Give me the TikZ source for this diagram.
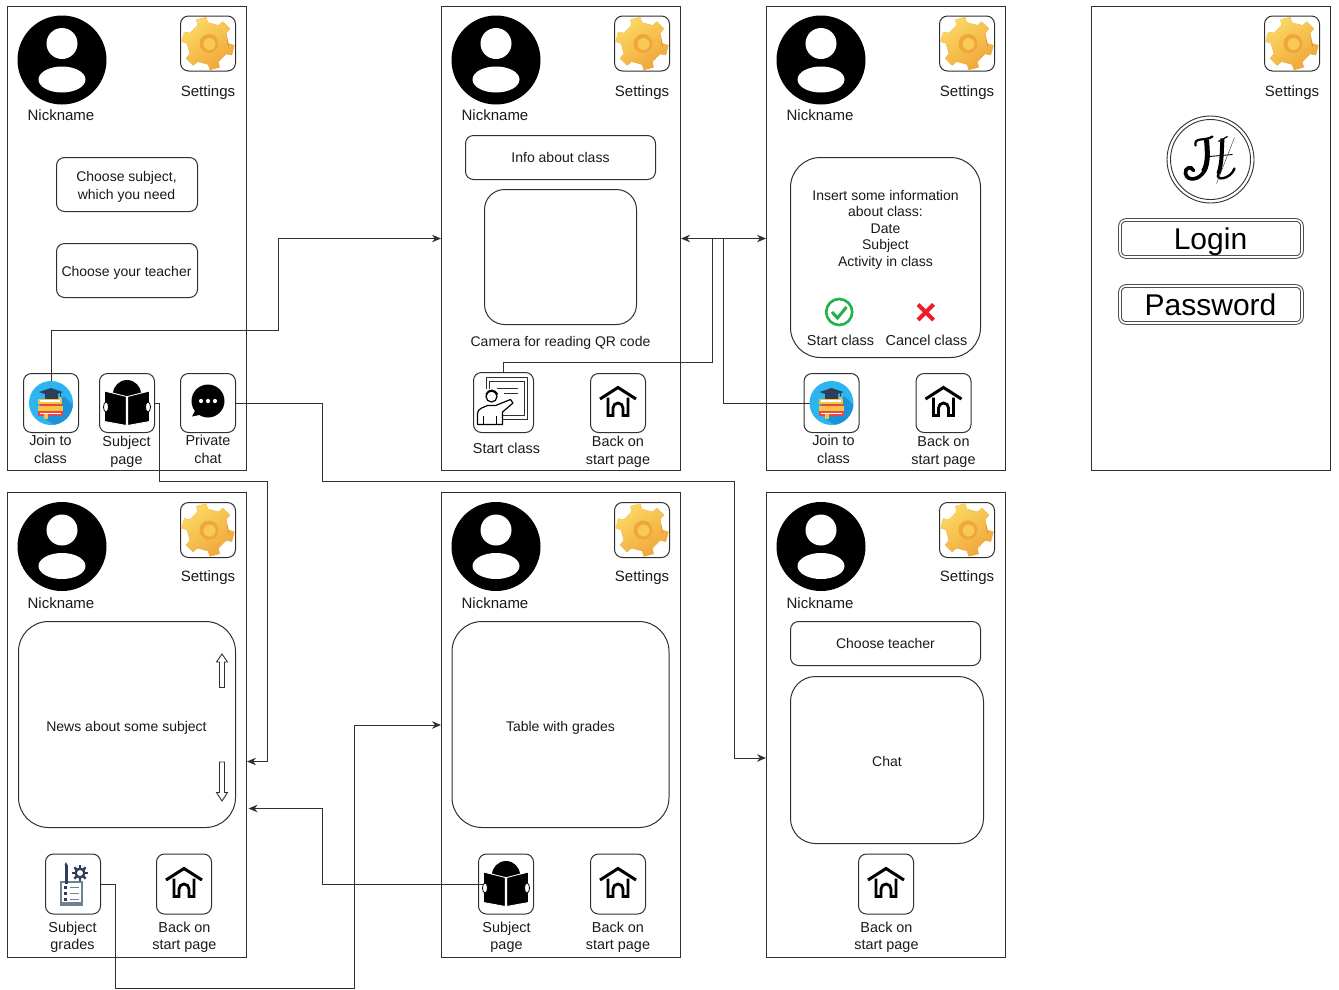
\documentclass[tikz,border=0pt]{standalone}
\usepackage{fontspec}
\setmainfont{Liberation Sans}
\usetikzlibrary{arrows.meta}
\definecolor{ink}{HTML}{303030}
\definecolor{txt}{HTML}{1A1A1A}
\definecolor{gearA}{HTML}{FBD862}
\definecolor{gearB}{HTML}{F0A63A}
\definecolor{gearC}{HTML}{DB8A2C}
\definecolor{skyb}{HTML}{2FB4F2}
\definecolor{skyd}{HTML}{1D93D6}
\definecolor{navy}{HTML}{2C3E5A}
\definecolor{bookY}{HTML}{F8C440}
\definecolor{bookR}{HTML}{E5474F}
\definecolor{okgreen}{HTML}{22B14C}
\definecolor{nored}{HTML}{EE1C25}
\definecolor{slate}{HTML}{6F8290}
\tikzset{
  panel/.style={draw=ink,line width=1pt,fill=white,inner sep=0pt,minimum width=239,minimum height=#1},
  panel/.default=464,
  btn/.style={draw=ink,line width=1pt,fill=white,rounded corners=8pt,inner sep=0pt},
  box/.style={draw=ink,line width=1pt,fill=white,inner sep=0pt,align=center,font=\fontsize{14}{18}\selectfont,text=txt},
  lab/.style={inner sep=0pt,align=center,font=\fontsize{14.4}{18}\selectfont,text=txt},
  big/.style={inner sep=0pt,font=\fontsize{15}{18}\selectfont,text=txt},
  small/.style={inner sep=0pt,align=center,font=\fontsize{14}{16.5}\selectfont,text=txt},
  conn/.style={draw=ink,line width=1pt},
  tip/.style={-{Stealth[length=9pt,width=7.5pt]}},
  tips/.style={{Stealth[length=9pt,width=7.5pt]}-{Stealth[length=9pt,width=7.5pt]}},
  dbl/.style={draw=ink!85,double=white,double distance=1.6pt,line width=1pt,rounded corners=6pt,fill=white,inner sep=0pt,minimum width=182,minimum height=37},
  bigt/.style={inner sep=0pt,font=\fontsize{30}{34}\selectfont,text=black},
  pics/avatarpic/.style={code={
    \fill[black] (0,0) circle (44.5);
    \fill[white] (0,-16.5) circle (15.5);
    \fill[white] (0,19.5) ellipse (23.5 and 13);
  }},
  pics/gearpic/.style={code={
    \fill[gearC] (2,2) ++(15:21) foreach \a in {15,75,135,195,255,315}{
      -- (\a-15:21) -- (\a-11:26.5) -- (\a+11:26.5) -- (\a+15:21) } -- cycle;
    \shade[left color=gearA,right color=gearB,shading angle=35] (15:21)
      foreach \a in {15,75,135,195,255,315}{
      -- (\a-15:21) -- (\a-11:26.5) -- (\a+11:26.5) -- (\a+15:21) } -- cycle;
    \fill[gearB] (1,0) circle (9.5);
    \fill[gearA!70!gearB] (1.5,0.5) circle (6);
  }},
  pics/bookpic/.style={code={
    \fill[black] (0,-9) circle (14);
    \draw[white,line width=.9pt,fill=black] (-22.5,-12) -- (-.6,-6.5) -- (-.6,22.5) -- (-22.5,18.5) -- cycle;
    \draw[white,line width=.9pt,fill=black] (22.5,-12) -- (.6,-6.5) -- (.6,22.5) -- (22.5,18.5) -- cycle;
    \fill[white,draw=black,line width=.8pt] (-21,4) ellipse (2.5 and 5);
    \fill[white,draw=black,line width=.8pt] (21,4) ellipse (2.5 and 5);
  }},
  pics/chatpic/.style={code={
    \fill[black] (0,-2) circle (16.5);
    \fill[black] (-12,6) -- (-16,13.5) -- (-4,11) -- cycle;
    \foreach \d in {-7,0,7}{\fill[white] (\d,-2) circle (2.1);}
  }},
  pics/joinpic/.style={code={
    \fill[skyb] (0,0) circle (22);
    \begin{scope}
      \clip (0,0) circle (22);
      \fill[skyd] (-6,16) -- (13,-7) -- (26,6) -- (10,26) -- cycle;
    \end{scope}
    \fill[bookY] (-13,-4.5) rectangle (11,1);
    \fill[white] (-11,-2.8) rectangle (9,-1);
    \fill[bookR] (-11,1) rectangle (11,3);
    \fill[bookY] (-13,3) rectangle (12,8);
    \fill[bookR] (-13,8) rectangle (12,12.5);
    \fill[white] (-11,9.5) rectangle (10,11);
    \fill[bookY] (-7,11) rectangle (-3,16);
    \fill[navy] (-6.5,-10) rectangle (6.5,-4.5);
    \fill[navy] (-12,-11) -- (0,-15) -- (12,-11) -- (0,-7) -- cycle;
    \draw[navy,line width=1pt] (9,-11) -- (9,-5);
    \fill[bookY] (9,-5) circle (1.5);
  }},
  pics/homepic/.style={code={
    \draw[black,line width=3pt,line join=miter] (-18,-4) -- (0,-15.5) -- (18,-4);
    \draw[black,line width=2.8pt] (-10,-5.5) -- (-10,12.5) -- (-5,12.5) -- (-5,5)
      arc[start angle=180,end angle=360,radius=5] -- (5,12.5) -- (10,12.5) -- (10,-5.5);
  }},
  pics/teachpic/.style={code={
    \draw[ink,line width=1.1pt] (-17,-25) rectangle (24,17);
    \draw[ink,line width=1.1pt] (-14,-21) rectangle (21,13);
    \draw[ink,line width=1.1pt] (-7,-14) -- (14,-14);
    \draw[ink,line width=1.1pt] (0,-9) -- (14,-9);
    \fill[white] (-26,-14) rectangle (-5,22);
    \fill[white] (-6,0) -- (9,-4) -- (10,3) -- (-1,12) -- (-1,22) -- (-6,22) -- cycle;
    \draw[black,line width=1.2pt,fill=white] (-12,-6) circle (5.5);
    \draw[black,line width=1.6pt] (-17.5,-8) .. controls (-15,-14) and (-8,-13) .. (-6,-8);
    \draw[black,line width=1.2pt,line join=round] (-26,22) -- (-26,11) .. controls (-26,6) and (-20,5) .. (-16,3) -- (-8,3) -- (7,-3) -- (9.5,0.5) -- (-1,9.5) -- (-1,22) -- cycle;
    \draw[black,line width=1.2pt] (-20,22) -- (-20,13);
    \draw[black,line width=1.2pt] (-7,22) -- (-7,13);
  }},
  pics/gradepic/.style={code={
    \draw[slate,line width=1.1pt,fill=white] (-12,-2) rectangle (9,21);
    \fill[slate] (-12,18) rectangle (9,21);
    \foreach \y in {3,9,15}{
      \fill[navy] (-9,\y-1.5) rectangle (-6,\y+1.5);
      \draw[slate,line width=1pt] (-3,\y) -- (6,\y);
    }
    \fill[navy] (-8.5,-19) rectangle (-5.5,0);
    \fill[navy] (-8.5,-19) -- (-7,-22) -- (-5.5,-19) -- cycle;
    \foreach \a in {0,45,...,315}{\draw[navy,line width=2.2pt] (7,-11) ++(\a:5) -- ++(\a:3);}
    \draw[navy,line width=2.4pt,fill=white] (7,-11) circle (4.4);
  }},
  pics/logopic/.style={code={
    \draw[ink,line width=.9pt] (0,0) circle (43.5);
    \draw[ink,line width=.9pt] (0,0) circle (40);
    \draw[black,line width=2.2pt,line cap=round] (-15,-14) .. controls (-17,-23) and (-5,-18) .. (2,-23);
    \draw[black,line width=5pt] (-4,-20) .. controls (-3,-8) and (-2,4) .. (-7,12);
    \draw[black,line width=3.6pt,line cap=round] (-6,11) .. controls (-10,20) and (-23,23) .. (-25,14) .. controls (-26,8) and (-19,6) .. (-17,11);
    \draw[black,line width=4pt] (12,-21) .. controls (11,-10) and (12,2) .. (8,14);
    \draw[black,line width=2.4pt,line cap=round] (8,14) .. controls (4,22) and (20,20) .. (24,9);
    \draw[black,line width=1.2pt] (17,-23) -- (8,-18);
    \draw[black,line width=.9pt] (-1,-3) -- (22,-5);
    \draw[black!70,line width=.5pt] (6,24) -- (24,-22);
  }},
}
% panel furniture: #1 panel x, #2 avatar y, #3 settings offset, #4 suffix, #5 nickname offset
\newcommand{\furn}[5]{%
  \pic at (#1+54.5,#2) {avatarpic};
  \node[big] (nick#4) at (#1+53.5,#2+#5) {Nickname};
  \node[btn,minimum width=55,minimum height=55] (gb#4) at (#1+200.5,#2-16.5) {};
  \pic at (gb#4.center) {gearpic};
  \node[big] (set#4) at (#1+200.5,#2+#3) {Settings};
}
\begin{document}
\begin{tikzpicture}[x=1pt,y=-1pt]
\useasboundingbox (0.5,0.5) rectangle (1339.5,989.5);
\fill[white] (0.5,0.5) rectangle (1339.5,989.5);
% panels
\node[panel] (p1) at (127.5,239) {};
\node[panel] (p2) at (561.5,239) {};
\node[panel] (p3) at (886.5,239) {};
\node[panel] (p4) at (1211.5,239) {};
\node[panel=465] (p5) at (127.5,725.5) {};
\node[panel=465] (p6) at (561.5,725.5) {};
\node[panel=465] (p7) at (886.5,725.5) {};
% furniture
\furn{8}{60.5}{33}{a}{55.5}
\furn{442}{60.5}{33}{b}{55.5}
\furn{767}{60.5}{33}{c}{55.5}
\furn{8}{547}{31.5}{e}{56.5}
\furn{442}{547}{31.5}{f}{56.5}
\furn{767}{547}{31.5}{g}{56.5}
\node[btn,minimum width=55,minimum height=55] (gbd) at (1292.5,44) {};
\pic at (gbd.center) {gearpic};
\node[big] (setd) at (1292.5,93.5) {Settings};
% panel 1
\node[box,rounded corners=8pt,minimum width=141,minimum height=54] (subj) at (127.5,185) {};
\node[box,draw=none,fill=none] (subjt) at (127,187) {Choose subject,\\which you need};
\node[box,rounded corners=8pt,minimum width=141,minimum height=54] (teach) at (127.5,271) {};
\node[box,draw=none,fill=none] (teacht) at (127,273) {Choose your teacher};
\node[btn,minimum width=55,minimum height=59] (joinA) at (51.5,403.5) {};
\node[btn,minimum width=55,minimum height=59] (subA) at (127.5,403.5) {};
\node[btn,minimum width=55,minimum height=59] (chatA) at (208.5,403.5) {};
\node[lab] (l1) at (51,450) {Join to\\class};
\node[lab] (l2) at (127,452) {Subject\\page};
\node[lab] (l3) at (208.5,450) {Private\\chat};
% panel 2
\node[box,rounded corners=8pt,minimum width=190,minimum height=44] (info) at (561,158) {Info about class};
\node[box,rounded corners=20pt,minimum width=152,minimum height=135] (cam) at (561,257.5) {};
\node[small] (camt) at (561,343) {Camera for reading QR code};
\node[btn,minimum width=60,minimum height=60] (startB) at (504,403) {};
\node[btn,minimum width=55,minimum height=59] (homeB) at (618.5,403.5) {};
\node[lab] (l4) at (507,449) {Start class};
\node[lab] (l5) at (618.5,452) {Back on\\start page};
% panel 3
\node[box,rounded corners=30pt,minimum width=190,minimum height=200] (ins) at (886,258) {};
\node[small] (inst) at (886,230) {Insert some information\\about class:\\Date\\Subject\\Activity in class};
\node[small,font=\fontsize{14.4}{18}\selectfont] (okt) at (841,341) {Start class};
\node[small,font=\fontsize{14.4}{18}\selectfont] (not) at (927,341) {Cancel class};
\node[btn,minimum width=55,minimum height=59] (joinC) at (832,403.5) {};
\node[btn,minimum width=55,minimum height=59] (homeC) at (944,403.5) {};
\node[lab] (l6) at (834,450) {Join to\\class};
\node[lab] (l7) at (944,452) {Back on\\start page};
% panel 4
\node[dbl] (login) at (1211.5,239) {};
\node[bigt] (logint) at (1211,242) {Login};
\node[dbl] (pass) at (1211.5,305) {};
\node[bigt] (passt) at (1211,305) {Password};
% panel 5
\node[box,rounded corners=30pt,minimum width=217,minimum height=206] (news) at (127.5,725) {};
\node[box,draw=none,fill=none] (newst) at (127,728) {News about some subject};
\node[btn,minimum width=55,minimum height=60] (gradeE) at (73.5,884.5) {};
\node[btn,minimum width=55,minimum height=60] (homeE) at (184.5,884.5) {};
\node[lab,font=\fontsize{14.4}{17}\selectfont] (l8) at (73,938) {Subject\\grades};
\node[lab,font=\fontsize{14.4}{17}\selectfont] (l9) at (185,938) {Back on\\start page};
% panel 6
\node[box,rounded corners=30pt,minimum width=217,minimum height=206] (table) at (561,725) {};
\node[box,draw=none,fill=none] (tablet) at (561,728) {Table with grades};
\node[btn,minimum width=55,minimum height=60] (subF) at (506.5,884.5) {};
\node[btn,minimum width=55,minimum height=60] (homeF) at (618.5,884.5) {};
\node[lab,font=\fontsize{14.4}{17}\selectfont] (l10) at (507,938) {Subject\\page};
\node[lab,font=\fontsize{14.4}{17}\selectfont] (l11) at (618.5,938) {Back on\\start page};
% panel 7
\node[box,rounded corners=8pt,minimum width=190,minimum height=44] (cht) at (886,644) {Choose teacher};
\node[box,rounded corners=25pt,minimum width=193,minimum height=167] (chatbox) at (887.5,760.5) {};
\node[box,draw=none,fill=none] (chatt) at (887.5,761.5) {Chat};
\node[btn,minimum width=55,minimum height=60] (homeG) at (886.5,884.5) {};
\node[lab,font=\fontsize{14.4}{17}\selectfont] (l12) at (887,938) {Back on\\start page};
% bends
\coordinate (b1) at (279,331);
\coordinate (c1) at (160,482);
\coordinate (c2) at (268,482);
\coordinate (c3) at (268,762);
\coordinate (d1) at (323,482);
\coordinate (d2) at (735,482);
\coordinate (d3) at (735,758.5);
\coordinate (e1) at (713,363);
\coordinate (e2) at (713,239);
\coordinate (f1) at (724,239);
\coordinate (g1) at (116,988.5);
\coordinate (g2) at (355,988.5);
\coordinate (h1) at (323,809);
\coordinate (h2) at (249,809);
% connectors
\draw[conn,tip] (joinA.center) |- (b1) |- (p2.west);
\draw[conn,tip] (subA.east) -| (c1) -- (c2) -- (c3) -- (p5.east |- c3);
\draw[conn,tip] (chatA.east) -| (d1) -- (d2) -- (d3) -- (p7.west |- d3);
\draw[conn] (startB.north) |- (e1) -- (e2);
\draw[conn] (joinC.center) -| (f1);
\draw[conn,tips] (p2.east) -- (p3.west);
\draw[conn,tip] (gradeE.east) -| (g1) -- (g2) -- (p6.west -| g2) |- (p6.west);
\draw[conn,tip] (subF.center) -| (h1) -- (h2);
% icons
\pic at (joinA.center) {joinpic};
\pic at (joinC.center) {joinpic};
\pic at (subA.center) {bookpic};
\pic at (subF.center) {bookpic};
\pic at (chatA.center) {chatpic};
\pic at (homeB.center) {homepic};
\pic at (homeC.center) {homepic};
\pic at (homeE.center) {homepic};
\pic at (homeF.center) {homepic};
\pic at (homeG.center) {homepic};
\pic at (startB.center) {teachpic};
\pic at (gradeE.center) {gradepic};
\pic at (1211,160) {logopic};
% check and cross
\draw[okgreen,line width=2.6pt] (839.7,312.5) circle (13);
\draw[okgreen,line width=3pt] (832.5,312.5) -- (838,318.5) -- (847,307.5);
\draw[nored,line width=4pt] (918.5,305) -- (934,320.5);
\draw[nored,line width=4pt] (934,305) -- (918.5,320.5);
% scroll arrows
\draw[ink,line width=.9pt,fill=white] (222.5,654.5) -- (228,662.5) -- (225,662.5) -- (225,688) -- (220,688) -- (220,662.5) -- (217,662.5) -- cycle;
\draw[ink,line width=.9pt,fill=white] (222.5,801.5) -- (228,793) -- (225,793) -- (225,762.5) -- (220,762.5) -- (220,793) -- (217,793) -- cycle;
\end{tikzpicture}
\end{document}
